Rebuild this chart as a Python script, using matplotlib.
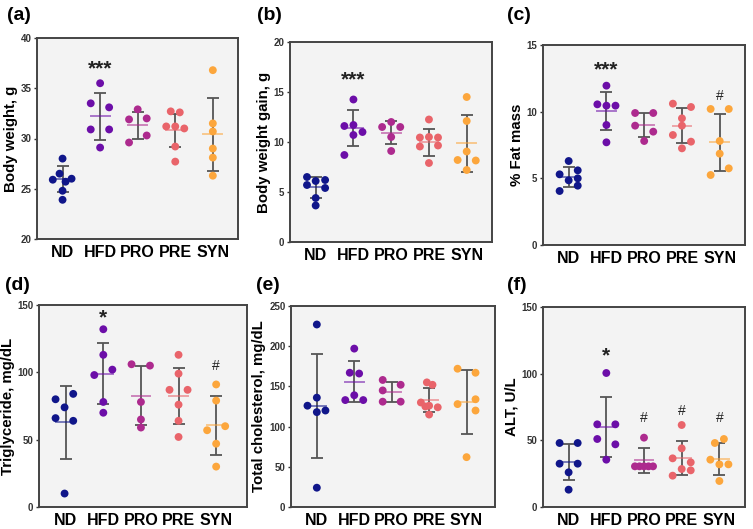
import matplotlib
matplotlib.use("Agg")
import matplotlib.pyplot as plt

plt.rcParams['font.family'] = ['Liberation Sans', 'DejaVu Sans']
plt.rcParams['font.weight'] = 'bold'

groups = ["ND", "HFD", "PRO", "PRE", "SYN"]
colors = ["#10168a", "#6c0ea8", "#ad2a8e", "#e9646a", "#fca63c"]

# ---------------- data ----------------
bw_vals = [[28.0, 26.5, 25.9, 26.0, 25.7, 24.8, 23.9],
           [35.5, 33.5, 33.1, 30.9, 30.9, 29.1],
           [32.9, 31.9, 32.0, 29.6, 30.3],
           [32.7, 32.6, 31.2, 31.2, 31.0, 29.2, 27.7],
           [36.8, 31.5, 30.7, 29.0, 28.1, 26.3]]
bw_mean = [26.0, 32.2, 31.3, 30.8, 30.4]
bw_sd = [1.3, 2.3, 1.3, 1.6, 3.6]

bwg_vals = [[6.5, 6.2, 6.1, 5.7, 5.4, 4.4, 3.65],
            [14.25, 11.6, 11.7, 11.0, 10.7, 8.7],
            [12.0, 11.5, 11.5, 10.5, 9.1],
            [12.25, 10.5, 10.45, 10.45, 9.65, 9.55, 7.9],
            [14.5, 12.1, 9.05, 8.2, 8.15, 7.2]]
bwg_mean = [5.45, 11.35, 10.9, 9.95, 9.85]
bwg_sd = [1.05, 1.8, 1.15, 1.35, 2.85]

fat_vals = [[6.3, 5.3, 5.6, 4.85, 5.0, 4.05, 4.45],
            [11.95, 10.55, 10.45, 10.45, 9.0, 7.7],
            [9.9, 9.9, 8.95, 8.5, 7.8],
            [10.6, 10.35, 9.5, 8.95, 8.25, 7.75, 7.25],
            [10.2, 10.2, 7.8, 6.85, 5.25, 5.75]]
fat_mean = [5.1, 10.05, 9.0, 8.95, 7.7]
fat_sd = [0.75, 1.45, 0.9, 1.3, 2.15]

tg_vals = [[80.0, 84.0, 74.0, 66.0, 64.0, 10.0],
           [132.0, 113.0, 102.0, 98.0, 78.0, 70.0],
           [106.0, 105.0, 78.0, 65.0, 59.0],
           [113.0, 99.0, 87.0, 87.0, 76.0, 64.0, 52.0],
           [91.0, 79.0, 57.0, 60.0, 47.0, 30.0]]
tg_mean = [63.0, 99.0, 82.6, 82.6, 60.7]
tg_sd = [27.0, 22.8, 21.9, 20.6, 21.9]

tc_vals = [[227.0, 136.0, 126.0, 120.0, 118.0, 24.0],
           [197.0, 167.0, 166.0, 139.0, 133.0, 133.0],
           [158.0, 152.0, 145.0, 131.0, 131.0],
           [155.0, 152.0, 130.0, 126.0, 125.0, 124.0, 115.0],
           [172.0, 167.0, 134.0, 128.0, 120.0, 62.0]]
tc_mean = [125.5, 155.8, 143.0, 132.7, 130.5]
tc_sd = [64.5, 25.6, 13.0, 14.8, 39.7]

alt_vals = [[48.0, 48.0, 32.5, 32.5, 26.0, 13.0],
            [100.5, 62.0, 62.0, 51.0, 47.0, 35.5],
            [52.0, 30.5, 30.5, 30.5, 30.5, 30.5],
            [61.5, 44.0, 36.5, 33.5, 28.5, 27.5, 23.5],
            [48.0, 51.0, 35.5, 32.0, 32.0, 19.5]]
alt_mean = [33.5, 59.8, 35.0, 36.5, 36.0]
alt_sd = [13.5, 22.5, 9.5, 12.8, 11.7]

# horizontal jitter of the dots (fraction of category spacing)
bw_jit = [[0, -0.08, -0.26, 0.24, 0.08, 0, 0], [0, -0.25, 0.24, -0.25, 0.24, 0],
          [0, -0.23, 0.24, -0.23, 0.24], [-0.12, 0.12, -0.24, 0, 0.24, 0, 0],
          [0, 0, 0, 0, 0, 0]]
bwg_jit = [[-0.23, 0.25, 0, -0.23, 0.25, 0, 0], [0, -0.24, 0, 0.24, 0, -0.24],
           [0, -0.24, 0.24, 0, 0], [0, 0, -0.24, 0.24, 0.24, -0.24, 0],
           [0, 0, 0, -0.24, 0.24, 0]]
fat_jit = [[0, -0.24, 0.24, 0, 0.24, -0.24, 0.24], [0, -0.24, 0, 0.24, 0, 0],
           [-0.24, 0.24, -0.24, 0.24, 0], [-0.24, 0.24, 0, 0, -0.24, 0.24, 0],
           [-0.24, 0.24, 0, 0, -0.24, 0.24]]
tg_jit = [[-0.27, 0.2, -0.03, -0.27, 0.2, -0.03], [0, 0, 0.24, -0.24, 0, 0],
          [-0.25, 0.24, 0, 0, 0], [0, 0, -0.24, 0.24, 0, 0, 0],
          [0, 0, -0.24, 0.24, 0, 0]]
tc_jit = [[0, 0, -0.25, 0.23, 0, 0], [0, -0.12, 0.13, 0, -0.24, 0.24],
          [-0.24, 0.24, -0.24, -0.24, 0.24], [-0.06, 0.09, -0.22, 0, -0.1, 0.23, 0],
          [-0.24, 0.24, 0.24, -0.24, 0.24, 0]]
alt_jit = [[-0.24, 0.24, -0.24, 0.24, 0, 0], [0, -0.24, 0.24, -0.24, 0.24, 0],
           [0, -0.24, -0.12, 0, 0.12, 0.24], [0, 0, -0.24, 0.24, 0, 0.24, -0.24],
           [-0.12, 0.12, -0.24, 0.24, 0, 0]]

panels = [
    dict(tag="(a)", ylabel="Body weight, g", vals=bw_vals, mean=bw_mean, sd=bw_sd, jit=bw_jit,
         ylim=(20, 40), yticks=[20, 25, 30, 35, 40],
         marks=[(1, 36.9, "***", 15), ],
         box=(37, 38, 238, 239), xlim=(-0.68, 4.67), tagpos=(7, 16)),
    dict(tag="(b)", ylabel="Body weight gain, g", vals=bwg_vals, mean=bwg_mean, sd=bwg_sd, jit=bwg_jit,
         ylim=(0, 20), yticks=[0, 5, 10, 15, 20],
         marks=[(1, 16.2, "***", 15)],
         box=(290, 42, 492, 242), xlim=(-0.68, 4.67), tagpos=(257, 16)),
    dict(tag="(c)", ylabel="% Fat mass", vals=fat_vals, mean=fat_mean, sd=fat_sd, jit=fat_jit,
         ylim=(0, 15), yticks=[0, 5, 10, 15],
         marks=[(1, 13.1, "***", 15), (4, 11.2, "#", 10)],
         box=(543, 45, 745, 245), xlim=(-0.68, 4.67), tagpos=(507, 16)),
    dict(tag="(d)", ylabel="Triglyceride, mg/dL", vals=tg_vals, mean=tg_mean, sd=tg_sd, jit=tg_jit,
         ylim=(0, 150), yticks=[0, 50, 100, 150],
         marks=[(1, 140.5, "*", 15), (4, 105, "#", 10)],
         box=(39, 305, 247, 507), xlim=(-0.71, 4.82), tagpos=(5, 286)),
    dict(tag="(e)", ylabel="Total cholesterol, mg/dL", vals=tc_vals, mean=tc_mean, sd=tc_sd, jit=tc_jit,
         ylim=(0, 250), yticks=[0, 50, 100, 150, 200, 250],
         marks=[],
         box=(291, 306, 495, 507), xlim=(-0.69, 4.76), tagpos=(256, 286)),
    dict(tag="(f)", ylabel="ALT, U/L", vals=alt_vals, mean=alt_mean, sd=alt_sd, jit=alt_jit,
         ylim=(0, 150), yticks=[0, 50, 100, 150],
         marks=[(1, 113, "*", 15), (2, 66.5, "#", 10), (3, 72, "#", 10), (4, 67, "#", 10)],
         box=(543, 307, 745, 507), xlim=(-0.68, 4.68), tagpos=(507, 286)),
]

W, H = 753, 529
fig = plt.figure(figsize=(W / 100, H / 100), dpi=100)

for p in panels:
    l, t, r, b = p["box"]
    ax = fig.add_axes([l / W, 1 - b / H, (r - l) / W, (b - t) / H])
    ax.set_facecolor("#f3f3f3")
    for i, g in enumerate(groups):
        vals = p["vals"][i]
        xs = [i + j for j in p["jit"][i]]
        m, s = p["mean"][i], p["sd"][i]
        ax.errorbar([i], [m], yerr=[s], fmt="none", ecolor="#555555", elinewidth=1.3,
                    capsize=4, capthick=1.3, zorder=2)
        ax.plot([i - 0.25, i + 0.25], [m, m], color=colors[i], alpha=0.55, lw=1.4, zorder=3)
        ax.scatter(xs, vals, s=32, color=colors[i], edgecolors="none", zorder=4)
    for gi, y, txt, fs in p["marks"]:
        ax.text(gi, y, txt, ha="center", va="center", fontsize=fs,
                fontweight="bold" if txt != "#" else "normal", color="#222222")
    ax.set_xlim(*p["xlim"])
    ax.set_ylim(*p["ylim"])
    ax.set_xticks(range(len(groups)))
    ax.set_xticklabels(groups, fontsize=11.5, fontweight="bold")
    ax.set_yticks(p["yticks"])
    ax.set_yticklabels([str(v) for v in p["yticks"]], fontsize=7, fontweight="bold", color="#333333")
    ax.tick_params(axis="x", length=0, pad=4)
    ax.tick_params(axis="y", length=2.5, width=1, pad=1.5, colors="#333333")
    ax.set_ylabel(p["ylabel"], fontsize=10.8, fontweight="bold", labelpad=2)
    for sp in ax.spines.values():
        sp.set_color("#444444")
        sp.set_linewidth(1.4)
    fig.text(p["tagpos"][0] / W, 1 - p["tagpos"][1] / H, p["tag"], fontsize=14,
             fontweight="bold", ha="left", va="center")

fig.savefig("out.png", dpi=100)
